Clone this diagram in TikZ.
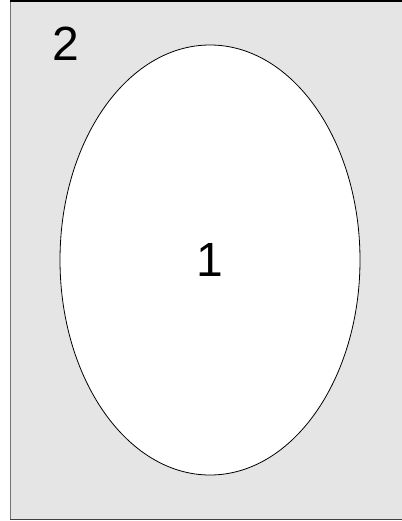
\documentclass[tikz,border=0pt]{standalone}
\usepackage{fontspec}
\setmainfont{Liberation Sans}
\usetikzlibrary{shapes.geometric}
\tikzstyle{region} = [ellipse, draw=black, fill=white, line width=0.8pt, minimum width=300pt, minimum height=430pt, inner sep=0pt]
\tikzstyle{label} = [font=\fontsize{48}{48}\selectfont, inner sep=0pt]

\begin{document}
\begin{tikzpicture}[x=1pt, y=-1pt]
    \useasboundingbox (0,0) rectangle (401,521);
    \fill[black!10] (10,1) rectangle (403,519);
    \draw[black!55, line width=1pt] (10,1) -- (10,519);
    \draw[black, line width=1.5pt] (10,1) -- (403,1);
    \draw[black!75, line width=1pt] (10,519) -- (403,519);
    \node[region, label] (one) at (210,260) {1};
    \node[label] (two) at (66,44) {2};
  \end{tikzpicture}
\end{document}
